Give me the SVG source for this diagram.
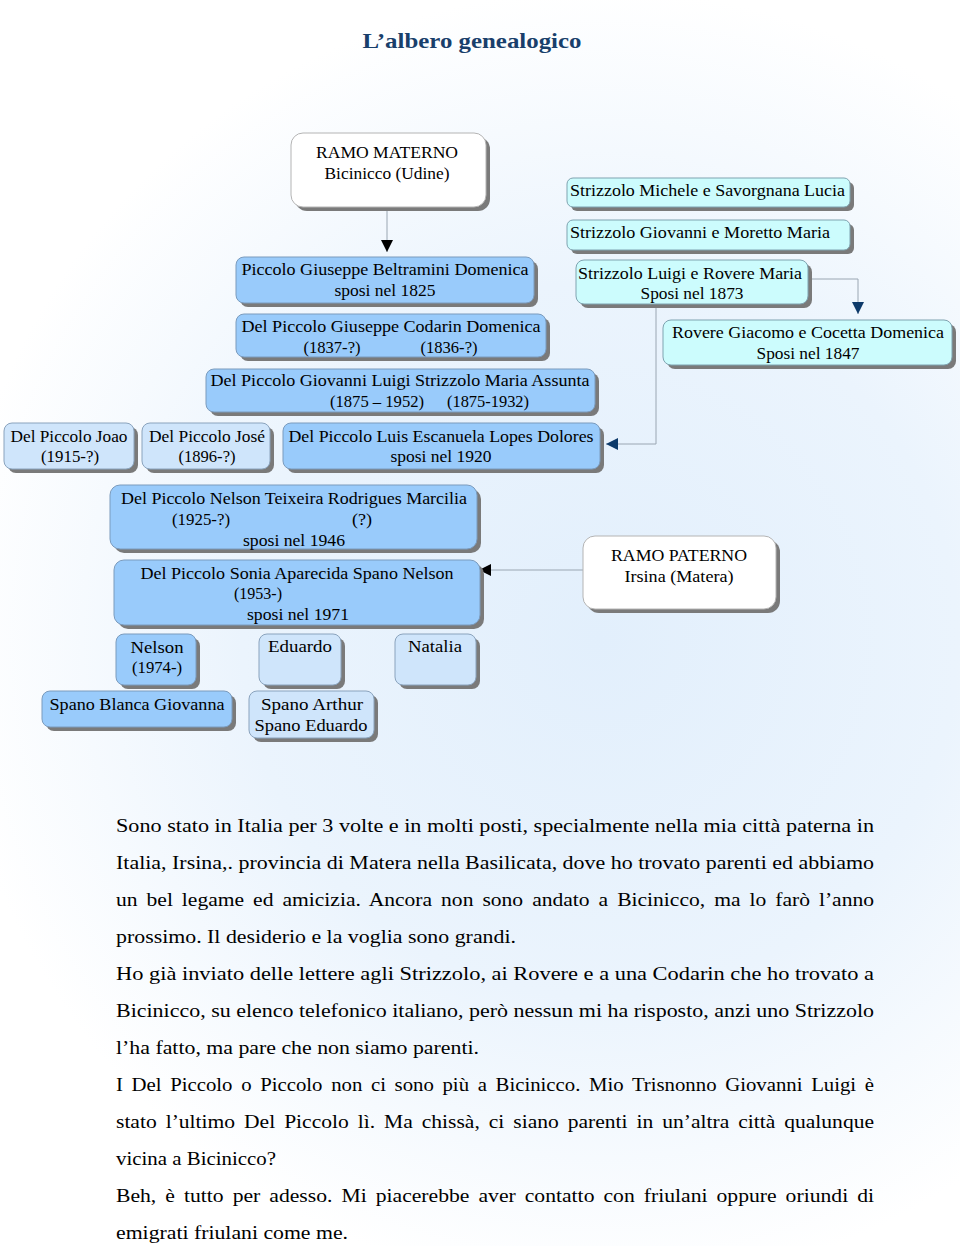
<svg xmlns="http://www.w3.org/2000/svg" width="960" height="1246" viewBox="0 0 960 1246">
<defs>
<radialGradient id="bg" gradientUnits="userSpaceOnUse" cx="600" cy="640" r="650">
<stop offset="0" stop-color="#e2effc"/>
<stop offset="0.55" stop-color="#ebf4fd"/>
<stop offset="1" stop-color="#ffffff"/>
</radialGradient>
<marker id="ab" viewBox="0 0 12 12" refX="12" refY="6" markerWidth="12" markerHeight="12" markerUnits="userSpaceOnUse" orient="auto"><path d="M0,0 L12,6 L0,12 Z" fill="#000"/></marker>
<marker id="ad" viewBox="0 0 12 12" refX="12" refY="6" markerWidth="12" markerHeight="12" markerUnits="userSpaceOnUse" orient="auto"><path d="M0,0 L12,6 L0,12 Z" fill="#0d3a6a"/></marker>
</defs>
<style>
.sh{fill:#7a7a7a}
.b1{fill:#99cbfb;stroke:#7b9bbd;stroke-width:1}
.b2{fill:#cfe5fb;stroke:#8aa3bd;stroke-width:1}
.cy{fill:#ccfcfd;stroke:#7fa3b0;stroke-width:1}
.wh{fill:#ffffff;stroke:#b4b4b4;stroke-width:1}
.t{font-family:"Liberation Serif","Times New Roman",serif;font-size:16px;fill:#000;text-anchor:middle}
.l{text-anchor:start}
.p{font-family:"Liberation Serif","Times New Roman",serif;font-size:18px;fill:#000}
.ttl{font-family:"Liberation Serif","Times New Roman",serif;font-size:22px;font-weight:bold;fill:#193f6b;text-anchor:middle}
.cn{fill:none;stroke:#9aa6b2;stroke-width:1}
</style>
<rect x="0" y="0" width="960" height="1246" fill="url(#bg)"/>
<text class="ttl" x="472" y="48" textLength="219" lengthAdjust="spacingAndGlyphs">L’albero genealogico</text>

<g id="connectors">
<path class="cn" d="M387,208 V252" marker-end="url(#ab)"/>
<path class="cn" d="M809,279 H858 V314" marker-end="url(#ad)"/>
<path class="cn" d="M656,305 V444 H606" marker-end="url(#ad)"/>
<path class="cn" d="M583,570 H479" marker-end="url(#ab)"/>
</g>

<g id="n-ramo-materno">
<rect class="sh" x="295" y="137" width="195" height="74" rx="12"/>
<rect class="wh" x="291" y="133" width="195" height="74" rx="12"/>
<text class="t" x="387" y="158" textLength="142" lengthAdjust="spacingAndGlyphs">RAMO MATERNO</text>
<text class="t" x="387" y="179" textLength="125" lengthAdjust="spacingAndGlyphs">Bicinicco (Udine)</text>
</g>
<g id="n-piccolo-giuseppe">
<rect class="sh" x="240" y="261" width="298" height="46" rx="8"/>
<rect class="b1" x="236" y="257" width="298" height="46" rx="8"/>
<text class="t" x="385" y="275" textLength="287" lengthAdjust="spacingAndGlyphs">Piccolo Giuseppe Beltramini Domenica</text>
<text class="t" x="385" y="296" textLength="101" lengthAdjust="spacingAndGlyphs">sposi nel 1825</text>
</g>
<g id="n-codarin">
<rect class="sh" x="240" y="318" width="310" height="43" rx="8"/>
<rect class="b1" x="236" y="314" width="310" height="43" rx="8"/>
<text class="t" x="391" y="332" textLength="299" lengthAdjust="spacingAndGlyphs">Del Piccolo Giuseppe Codarin Domenica</text>
<text class="t" x="332" y="353" textLength="57" lengthAdjust="spacingAndGlyphs">(1837-?)</text>
<text class="t" x="449" y="353" textLength="57" lengthAdjust="spacingAndGlyphs">(1836-?)</text>
</g>
<g id="n-giovanni-luigi">
<rect class="sh" x="210" y="373" width="389" height="43" rx="8"/>
<rect class="b1" x="206" y="369" width="389" height="43" rx="8"/>
<text class="t" x="400" y="386" textLength="379" lengthAdjust="spacingAndGlyphs">Del Piccolo Giovanni Luigi Strizzolo Maria Assunta</text>
<text class="t" x="377" y="407" textLength="94" lengthAdjust="spacingAndGlyphs">(1875 – 1952)</text>
<text class="t" x="488" y="407" textLength="82" lengthAdjust="spacingAndGlyphs">(1875-1932)</text>
</g>
<g id="n-joao">
<rect class="sh" x="8" y="427" width="130" height="46" rx="8"/>
<rect class="b2" x="4" y="423" width="130" height="46" rx="8"/>
<text class="t" x="69" y="442" textLength="117" lengthAdjust="spacingAndGlyphs">Del Piccolo Joao</text>
<text class="t" x="70" y="462" textLength="58" lengthAdjust="spacingAndGlyphs">(1915-?)</text>
</g>
<g id="n-jose">
<rect class="sh" x="146" y="427" width="128" height="46" rx="8"/>
<rect class="b2" x="142" y="423" width="128" height="46" rx="8"/>
<text class="t" x="207" y="442" textLength="116" lengthAdjust="spacingAndGlyphs">Del Piccolo José</text>
<text class="t" x="207" y="462" textLength="57" lengthAdjust="spacingAndGlyphs">(1896-?)</text>
</g>
<g id="n-luis">
<rect class="sh" x="287" y="427" width="317" height="46" rx="8"/>
<rect class="b1" x="283" y="423" width="317" height="46" rx="8"/>
<text class="t" x="441" y="442" textLength="305" lengthAdjust="spacingAndGlyphs">Del Piccolo Luis Escanuela Lopes Dolores</text>
<text class="t" x="441" y="462" textLength="101" lengthAdjust="spacingAndGlyphs">sposi nel 1920</text>
</g>
<g id="n-strizzolo-michele">
<rect class="sh" x="571" y="182" width="283" height="29" rx="6"/>
<rect class="cy" x="567" y="178" width="283" height="29" rx="6"/>
<text class="t l" x="570" y="196" textLength="275" lengthAdjust="spacingAndGlyphs">Strizzolo Michele e Savorgnana Lucia</text>
</g>
<g id="n-strizzolo-giovanni">
<rect class="sh" x="571" y="224" width="283" height="30" rx="6"/>
<rect class="cy" x="567" y="220" width="283" height="30" rx="6"/>
<text class="t l" x="570" y="238" textLength="260" lengthAdjust="spacingAndGlyphs">Strizzolo Giovanni e Moretto Maria</text>
</g>
<g id="n-strizzolo-luigi">
<rect class="sh" x="580" y="264" width="232" height="44" rx="8"/>
<rect class="cy" x="576" y="260" width="232" height="44" rx="8"/>
<text class="t" x="690" y="279" textLength="224" lengthAdjust="spacingAndGlyphs">Strizzolo Luigi e Rovere Maria</text>
<text class="t" x="692" y="299" textLength="103" lengthAdjust="spacingAndGlyphs">Sposi nel 1873</text>
</g>
<g id="n-rovere-giacomo">
<rect class="sh" x="667" y="324" width="289" height="45" rx="8"/>
<rect class="cy" x="663" y="320" width="289" height="45" rx="8"/>
<text class="t" x="808" y="338" textLength="272" lengthAdjust="spacingAndGlyphs">Rovere Giacomo e Cocetta Domenica</text>
<text class="t" x="808" y="359" textLength="103" lengthAdjust="spacingAndGlyphs">Sposi nel 1847</text>
</g>
<g id="n-nelson-teixeira">
<rect class="sh" x="114" y="489" width="367" height="64" rx="10"/>
<rect class="b1" x="110" y="485" width="367" height="64" rx="10"/>
<text class="t" x="294" y="504" textLength="346" lengthAdjust="spacingAndGlyphs">Del Piccolo Nelson Teixeira Rodrigues Marcilia</text>
<text class="t" x="201" y="525" textLength="58" lengthAdjust="spacingAndGlyphs">(1925-?)</text>
<text class="t" x="362" y="525" textLength="20" lengthAdjust="spacingAndGlyphs">(?)</text>
<text class="t" x="294" y="546" textLength="102" lengthAdjust="spacingAndGlyphs">sposi nel 1946</text>
</g>
<g id="n-sonia">
<rect class="sh" x="118" y="564" width="366" height="65" rx="10"/>
<rect class="b1" x="114" y="560" width="366" height="65" rx="10"/>
<text class="t" x="297" y="579" textLength="313" lengthAdjust="spacingAndGlyphs">Del Piccolo Sonia Aparecida Spano Nelson</text>
<text class="t" x="258" y="599" textLength="48" lengthAdjust="spacingAndGlyphs">(1953-)</text>
<text class="t" x="298" y="620" textLength="102" lengthAdjust="spacingAndGlyphs">sposi nel 1971</text>
</g>
<g id="n-ramo-paterno">
<rect class="sh" x="587" y="540" width="193" height="73" rx="12"/>
<rect class="wh" x="583" y="536" width="193" height="73" rx="12"/>
<text class="t" x="679" y="561" textLength="136" lengthAdjust="spacingAndGlyphs">RAMO PATERNO</text>
<text class="t" x="679" y="582" textLength="109" lengthAdjust="spacingAndGlyphs">Irsina (Matera)</text>
</g>
<g id="n-nelson">
<rect class="sh" x="120" y="638" width="80" height="51" rx="8"/>
<rect class="b1" x="116" y="634" width="80" height="51" rx="8"/>
<text class="t" x="157" y="653" textLength="53" lengthAdjust="spacingAndGlyphs">Nelson</text>
<text class="t" x="157" y="673" textLength="50" lengthAdjust="spacingAndGlyphs">(1974-)</text>
</g>
<g id="n-eduardo">
<rect class="sh" x="263" y="638" width="82" height="51" rx="8"/>
<rect class="b2" x="259" y="634" width="82" height="51" rx="8"/>
<text class="t" x="300" y="652" textLength="64" lengthAdjust="spacingAndGlyphs">Eduardo</text>
</g>
<g id="n-natalia">
<rect class="sh" x="399" y="638" width="81" height="51" rx="8"/>
<rect class="b2" x="395" y="634" width="81" height="51" rx="8"/>
<text class="t" x="435" y="652" textLength="54" lengthAdjust="spacingAndGlyphs">Natalia</text>
</g>
<g id="n-spano-blanca">
<rect class="sh" x="46" y="695" width="190" height="36" rx="8"/>
<rect class="b1" x="42" y="691" width="190" height="36" rx="8"/>
<text class="t" x="137" y="710" textLength="175" lengthAdjust="spacingAndGlyphs">Spano Blanca Giovanna</text>
</g>
<g id="n-spano-arthur">
<rect class="sh" x="253" y="695" width="125" height="47" rx="8"/>
<rect class="b2" x="249" y="691" width="125" height="47" rx="8"/>
<text class="t" x="312" y="710" textLength="102" lengthAdjust="spacingAndGlyphs">Spano Arthur</text>
<text class="t" x="311" y="731" textLength="113" lengthAdjust="spacingAndGlyphs">Spano Eduardo</text>
</g>

<g id="paragraph">
<text class="p" x="116" y="832" textLength="758" lengthAdjust="spacingAndGlyphs">Sono stato in Italia per 3 volte e in molti posti, specialmente nella mia città paterna in</text>
<text class="p" x="116" y="869" textLength="758" lengthAdjust="spacingAndGlyphs">Italia, Irsina,. provincia di Matera nella Basilicata, dove ho trovato parenti ed abbiamo</text>
<text class="p" x="116" y="906" textLength="758" lengthAdjust="spacingAndGlyphs" word-spacing="3">un bel legame ed amicizia. Ancora non sono andato a Bicinicco, ma lo farò l’anno</text>
<text class="p" x="116" y="943" textLength="400" lengthAdjust="spacingAndGlyphs">prossimo. Il desiderio e la voglia sono grandi.</text>
<text class="p" x="116" y="980" textLength="758" lengthAdjust="spacingAndGlyphs">Ho già inviato delle lettere agli Strizzolo, ai Rovere e a una Codarin che ho trovato a</text>
<text class="p" x="116" y="1017" textLength="758" lengthAdjust="spacingAndGlyphs">Bicinicco, su elenco telefonico italiano, però nessun mi ha risposto, anzi uno Strizzolo</text>
<text class="p" x="116" y="1054" textLength="363" lengthAdjust="spacingAndGlyphs">l’ha fatto, ma pare che non siamo parenti.</text>
<text class="p" x="116" y="1091" textLength="758" lengthAdjust="spacingAndGlyphs" word-spacing="3">I Del Piccolo o Piccolo non ci sono più a Bicinicco. Mio Trisnonno Giovanni Luigi è</text>
<text class="p" x="116" y="1128" textLength="758" lengthAdjust="spacingAndGlyphs" word-spacing="3">stato l’ultimo Del Piccolo lì. Ma chissà, ci siano parenti in un’altra città qualunque</text>
<text class="p" x="116" y="1165" textLength="160" lengthAdjust="spacingAndGlyphs">vicina a Bicinicco?</text>
<text class="p" x="116" y="1202" textLength="758" lengthAdjust="spacingAndGlyphs" word-spacing="3">Beh, è tutto per adesso. Mi piacerebbe aver contatto con friulani oppure oriundi di</text>
<text class="p" x="116" y="1239" textLength="232" lengthAdjust="spacingAndGlyphs">emigrati friulani come me.</text>
</g>
</svg>
